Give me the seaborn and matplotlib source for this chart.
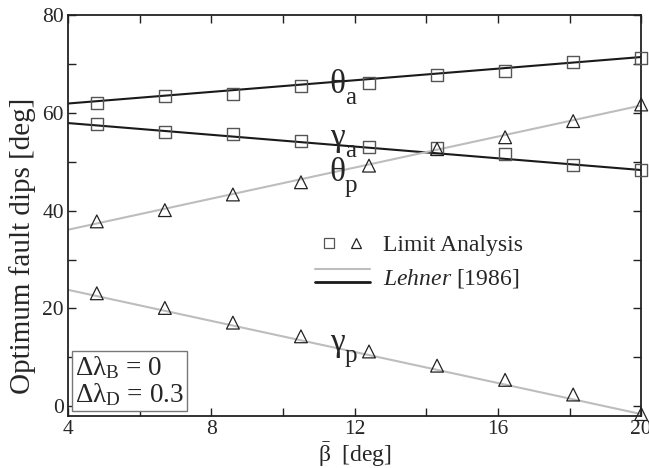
import matplotlib
matplotlib.use("Agg")
import matplotlib.pyplot as plt
import seaborn as sns
import pandas as pd
from matplotlib.lines import Line2D
from matplotlib.legend_handler import HandlerTuple, HandlerBase
from matplotlib.ticker import MultipleLocator

# ---- data ----
beta_pts = [4.8, 6.7, 8.6, 10.5, 12.4, 14.3, 16.2, 18.1, 20.0]
theta_a_pts = [62.1, 63.5, 63.9, 65.5, 66.1, 67.8, 68.5, 70.3, 71.2]
gamma_a_pts = [57.8, 56.1, 55.7, 54.3, 53.1, 52.7, 51.6, 49.4, 48.4]
theta_p_pts = [37.8, 40.1, 43.3, 45.8, 49.2, 52.6, 55.0, 58.3, 61.7]
gamma_p_pts = [23.1, 20.1, 17.1, 14.3, 11.2, 8.3, 5.4, 2.4, -1.6]

beta_line = [4.0, 20.0]
theta_a_line = [61.9, 71.4]
gamma_a_line = [57.9, 48.3]
theta_p_line = [36.1, 61.5]
gamma_p_line = [23.8, -1.6]

x_ticks = [4, 8, 12, 16, 20]
y_ticks = [0, 20, 40, 60, 80]

curve_labels = [('θ', 'a', 64.0), ('γ', 'a', 53.2), ('θ', 'p', 46.1), ('γ', 'p', 11.4)]

sns.set_style("ticks")
plt.rcParams['font.family'] = ['Liberation Serif', 'DejaVu Serif']
plt.rcParams['mathtext.fontset'] = 'custom'
plt.rcParams['mathtext.rm'] = 'Liberation Serif'
plt.rcParams['mathtext.it'] = 'Liberation Serif:italic'
plt.rcParams['mathtext.bf'] = 'Liberation Serif:bold'

BLACK = '#1a1a1a'
GRAY = '#bdbdbd'

fig, ax = plt.subplots(figsize=(6.49, 4.68), dpi=100)
fig.subplots_adjust(left=0.105, right=0.988, top=0.968, bottom=0.111)

lines_df = pd.DataFrame({'beta': beta_line * 4,
                         'val': theta_a_line + gamma_a_line + theta_p_line + gamma_p_line,
                         'curve': ['ta'] * 2 + ['ga'] * 2 + ['tp'] * 2 + ['gp'] * 2})
pal = {'ta': BLACK, 'ga': BLACK, 'tp': GRAY, 'gp': GRAY}
sns.lineplot(data=lines_df, x='beta', y='val', hue='curve', palette=pal,
             linewidth=1.5, legend=False, ax=ax, sort=False)

sq_df = pd.DataFrame({'beta': beta_pts * 2, 'val': theta_a_pts + gamma_a_pts})
tr_df = pd.DataFrame({'beta': beta_pts * 2, 'val': theta_p_pts + gamma_p_pts})
sns.scatterplot(data=sq_df, x='beta', y='val', marker='s', s=75,
                facecolor='none', edgecolor='#555555', linewidth=1.0, ax=ax, zorder=3, clip_on=False)
sns.scatterplot(data=tr_df, x='beta', y='val', marker='^', s=85,
                facecolor='none', edgecolor='#222222', linewidth=0.9, ax=ax, zorder=3, clip_on=False)

ax.set_xlim(4, 20)
ax.set_ylim(-2, 80)
ax.set_xticks(x_ticks)
ax.set_yticks(y_ticks)
ax.xaxis.set_minor_locator(MultipleLocator(2))
ax.yaxis.set_minor_locator(MultipleLocator(10))
ax.tick_params(which='both', direction='in', top=True, right=True, labelsize=15.5,
               width=1.0, color='#222222', pad=3)
ax.tick_params(which='major', length=6)
ax.tick_params(which='minor', length=6)
for s in ax.spines.values():
    s.set_linewidth(1.3)
    s.set_color('#222222')

ax.set_xlabel('$\\bar{\\mathrm{β}}$  [deg]', fontsize=17)
ax.xaxis.set_label_coords(0.5, -0.06)
ax.set_ylabel('Optimum fault dips [deg]', fontsize=21)
ax.yaxis.set_label_coords(-0.056, 0.424)

for main, sub, yv in curve_labels:
    ax.annotate(main, xy=(11.3, yv), xycoords='data', fontsize=24, ha='left', va='baseline')
    ax.annotate(sub, xy=(11.3, yv), xycoords='data', xytext=(11.0, -8.0), textcoords='offset points',
                fontsize=18, ha='left', va='baseline')

ax.text(0.012, 0.02, 'Δλ$_{\\mathrm{B}}$ = 0\nΔλ$_{\\mathrm{D}}$ = 0.3', transform=ax.transAxes,
        fontsize=19.5, ha='left', va='bottom', linespacing=1.0,
        bbox=dict(boxstyle='square,pad=0.12', fc='white', ec='#777777', lw=1.0))


class TwoLines(tuple):
    pass


class HandlerTwoLines(HandlerBase):
    def create_artists(self, legend, orig_handle, xdescent, ydescent, width, height, fontsize, trans):
        l1, l2 = orig_handle
        yc = height / 2 - ydescent
        a = Line2D([-xdescent, width - xdescent], [yc + 4.6, yc + 4.6], color=l1.get_color(), lw=1.5, transform=trans)
        b = Line2D([-xdescent, width - xdescent], [yc - 4.6, yc - 4.6], color=l2.get_color(), lw=2.0, transform=trans)
        return [a, b]


h_sq = Line2D([], [], marker='s', ls='none', mfc='none', mec='#555555', ms=7, mew=0.9)
h_tr = Line2D([], [], marker='^', ls='none', mfc='none', mec='#222222', ms=7.5, mew=0.9)
h_lg = Line2D([], [], color=GRAY)
h_lb = Line2D([], [], color=BLACK)

ax.legend([(h_sq, h_tr), TwoLines((h_lg, h_lb))], ['Limit Analysis', '$\\mathit{Lehner}$ [1986]'],
          handler_map={tuple: HandlerTuple(ndivide=None, pad=0.0), TwoLines: HandlerTwoLines()},
          loc='center left', bbox_to_anchor=(0.431, 0.384), frameon=False, fontsize=17,
          handlelength=2.33, handletextpad=0.55, labelspacing=0.45, borderpad=0.0, borderaxespad=0.0)

fig.savefig('out.png', dpi=100)
